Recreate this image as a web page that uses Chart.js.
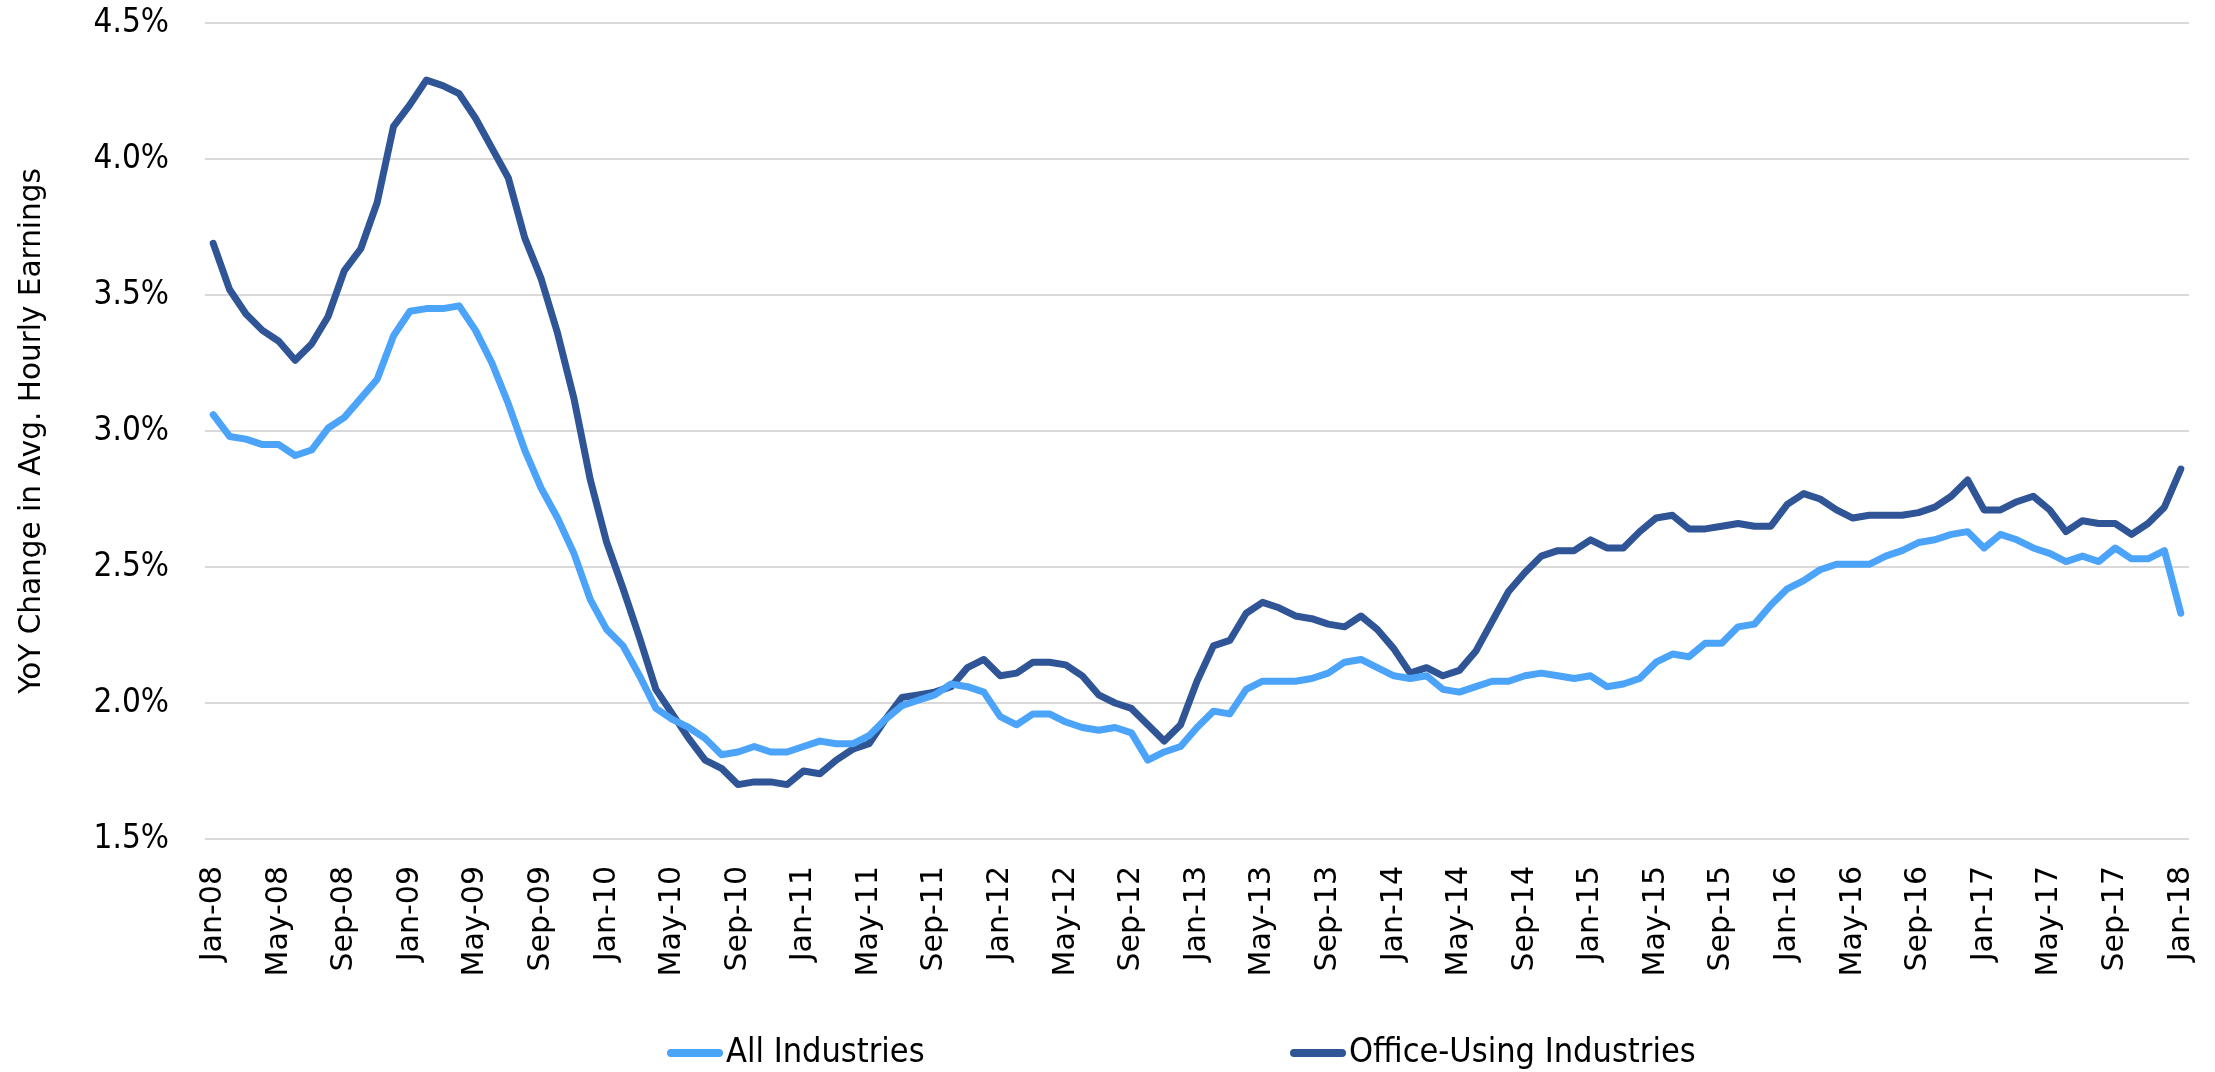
<!DOCTYPE html>
<html>
<head>
<meta charset="utf-8">
<script src="https://cdn.jsdelivr.net/npm/chart.js@4.4.1/dist/chart.umd.min.js"></script>
<style>
  html, body { margin: 0; padding: 0; background: #fff; }
  #wrap { width: 2215px; height: 1072px; position: relative; }
</style>
</head>
<body>
<div id="wrap"><canvas id="earnings"></canvas></div>
<script>
// month axis: Jan-08 .. Jan-18
const monthNames = ["Jan", "Feb", "Mar", "Apr", "May", "Jun", "Jul", "Aug", "Sep", "Oct", "Nov", "Dec"];
const firstYear = 2008;
const monthCount = 121;

// y axis ticks (%)
const yTicks = [1.5, 2.0, 2.5, 3.0, 3.5, 4.0, 4.5];

// YoY change in avg. hourly earnings, %
const allIndustries = [
  3.06, 2.98, 2.97, 2.95, 2.95, 2.91, 2.93, 3.01, 3.05, 3.12, 3.19, 3.35,
  3.44, 3.45, 3.45, 3.46, 3.37, 3.25, 3.10, 2.93, 2.79, 2.68, 2.55, 2.38,
  2.27, 2.21, 2.10, 1.98, 1.94, 1.91, 1.87, 1.81, 1.82, 1.84, 1.82, 1.82,
  1.84, 1.86, 1.85, 1.85, 1.88, 1.94, 1.99, 2.01, 2.03, 2.07, 2.06, 2.04,
  1.95, 1.92, 1.96, 1.96, 1.93, 1.91, 1.90, 1.91, 1.89, 1.79, 1.82, 1.84,
  1.91, 1.97, 1.96, 2.05, 2.08, 2.08, 2.08, 2.09, 2.11, 2.15, 2.16, 2.13,
  2.10, 2.09, 2.10, 2.05, 2.04, 2.06, 2.08, 2.08, 2.10, 2.11, 2.10, 2.09,
  2.10, 2.06, 2.07, 2.09, 2.15, 2.18, 2.17, 2.22, 2.22, 2.28, 2.29, 2.36,
  2.42, 2.45, 2.49, 2.51, 2.51, 2.51, 2.54, 2.56, 2.59, 2.60, 2.62, 2.63,
  2.57, 2.62, 2.60, 2.57, 2.55, 2.52, 2.54, 2.52, 2.57, 2.53, 2.53, 2.56,
  2.33
];
const officeUsing = [
  3.69, 3.52, 3.43, 3.37, 3.33, 3.26, 3.32, 3.42, 3.59, 3.67, 3.84, 4.12,
  4.20, 4.29, 4.27, 4.24, 4.15, 4.04, 3.93, 3.71, 3.56, 3.36, 3.12, 2.82,
  2.59, 2.42, 2.24, 2.05, 1.96, 1.87, 1.79, 1.76, 1.70, 1.71, 1.71, 1.70,
  1.75, 1.74, 1.79, 1.83, 1.85, 1.94, 2.02, 2.03, 2.04, 2.06, 2.13, 2.16,
  2.10, 2.11, 2.15, 2.15, 2.14, 2.10, 2.03, 2.00, 1.98, 1.92, 1.86, 1.92,
  2.08, 2.21, 2.23, 2.33, 2.37, 2.35, 2.32, 2.31, 2.29, 2.28, 2.32, 2.27,
  2.20, 2.11, 2.13, 2.10, 2.12, 2.19, 2.30, 2.41, 2.48, 2.54, 2.56, 2.56,
  2.60, 2.57, 2.57, 2.63, 2.68, 2.69, 2.64, 2.64, 2.65, 2.66, 2.65, 2.65,
  2.73, 2.77, 2.75, 2.71, 2.68, 2.69, 2.69, 2.69, 2.70, 2.72, 2.76, 2.82,
  2.71, 2.71, 2.74, 2.76, 2.71, 2.63, 2.67, 2.66, 2.66, 2.62, 2.66, 2.72,
  2.86
];

const seriesNames = ["All Industries", "Office-Using Industries"];
const seriesColors = ["#4BA4FA", "#2F5597"];

const labels = [];
for (let i = 0; i < monthCount; i++) {
  const yy = String((firstYear + Math.floor(i / 12)) % 100).padStart(2, "0");
  labels.push(monthNames[i % 12] + "-" + yy);
}

const narrowFont = "'Liberation Sans Narrow', 'DejaVu Sans Condensed', sans-serif";
const wideFont = "'DejaVu Sans', Verdana, sans-serif";

// legend drawn under the axis labels, line sample + text
const bottomLegend = {
  id: "bottomLegend",
  afterDraw(chart) {
    const ctx = chart.ctx;
    const starts = [667, 1290];
    const y = 1053;
    ctx.save();
    chart.data.datasets.forEach((ds, i) => {
      const x = starts[i];
      ctx.strokeStyle = ds.borderColor;
      ctx.lineWidth = 8;
      ctx.lineCap = "round";
      ctx.beginPath();
      ctx.moveTo(x + 4, y);
      ctx.lineTo(x + 52, y);
      ctx.stroke();
      ctx.fillStyle = "#000";
      ctx.font = "34px " + narrowFont;
      ctx.textBaseline = "middle";
      ctx.textAlign = "left";
      ctx.fillText(ds.label, x + 59, y);
    });
    ctx.restore();
  }
};

const lineStyle = {
  borderWidth: 7,
  pointRadius: 0,
  pointHoverRadius: 0,
  tension: 0,
  fill: false,
  borderJoinStyle: "round",
  borderCapStyle: "round"
};

new Chart(document.getElementById("earnings"), {
  type: "line",
  data: {
    labels: labels,
    datasets: [
      Object.assign({ label: seriesNames[0], data: allIndustries, borderColor: seriesColors[0], backgroundColor: seriesColors[0] }, lineStyle),
      Object.assign({ label: seriesNames[1], data: officeUsing, borderColor: seriesColors[1], backgroundColor: seriesColors[1] }, lineStyle)
    ]
  },
  plugins: [bottomLegend],
  options: {
    responsive: true,
    maintainAspectRatio: false,
    animation: false,
    devicePixelRatio: 1,
    layout: { padding: { top: 23, right: 26, left: 0, bottom: 0 } },
    plugins: {
      legend: { display: false },
      tooltip: { enabled: false }
    },
    scales: {
      x: {
        type: "category",
        offset: true,
        // invisible tick marks keep the labels clear of the plot
        grid: { display: true, drawOnChartArea: false, color: "transparent", drawTicks: true, tickLength: 27, tickColor: "transparent" },
        border: { display: false },
        ticks: {
          autoSkip: false,
          minRotation: 90,
          maxRotation: 90,
          padding: 0,
          color: "#000",
          font: { family: wideFont, size: 30, lineHeight: 1 },
          callback: function (value, index) {
            return index % 4 === 0 ? labels[index] : "";
          }
        },
        afterFit: function (scale) { scale.height = 233; }
      },
      y: {
        min: yTicks[0],
        max: yTicks[yTicks.length - 1],
        afterBuildTicks: function (scale) {
          scale.ticks = yTicks.map(v => ({ value: v }));
        },
        grid: { color: "#D9D9D9", lineWidth: 2, drawTicks: true, tickLength: 36, tickColor: "transparent" },
        border: { display: false },
        ticks: {
          padding: 0,
          color: "#000",
          font: { family: narrowFont, size: 33 },
          callback: v => Number(v).toFixed(1) + "%"
        },
        title: {
          display: true,
          text: "YoY Change in Avg. Hourly Earnings",
          color: "#000",
          font: { family: wideFont, size: 29.5 },
          padding: { top: 15, bottom: 0 }
        },
        afterFit: function (scale) { scale.width = 205; }
      }
    }
  }
});
</script>
</body>
</html>
